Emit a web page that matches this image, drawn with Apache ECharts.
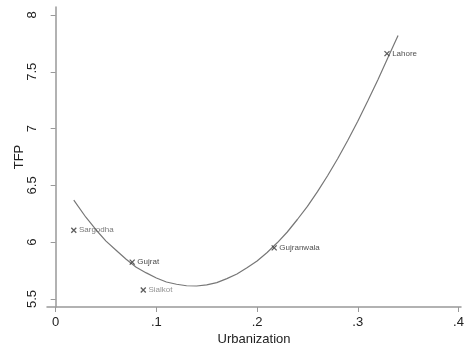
<!DOCTYPE html>
<html><head><meta charset="utf-8">
<script src="https://cdn.jsdelivr.net/npm/echarts@6/dist/echarts.min.js"></script>
<style>html,body{margin:0;padding:0;background:#fff}#c{width:464px;height:347px}</style>
</head><body><div id="c"></div>
<script>
// Data
var cities = ['Sargodha', 'Gujrat', 'Sialkot', 'Gujranwala', 'Lahore'];
var urbanization = [0.018, 0.076, 0.087, 0.217, 0.329];
var tfp = [6.105, 5.825, 5.58, 5.95, 7.66];
var labelColors = ['#555', '#111', '#777', '#222', '#222'];
// fitted curve, points
var curveX = [0.018, 0.03, 0.04, 0.05, 0.06, 0.07, 0.08, 0.09, 0.10, 0.11, 0.12, 0.13, 0.14, 0.15, 0.16, 0.17, 0.18, 0.19, 0.20, 0.21, 0.22, 0.23, 0.24, 0.25, 0.26, 0.27, 0.28, 0.29, 0.30, 0.31, 0.32, 0.33, 0.34];
var curveY = [6.37, 6.22, 6.11, 6.01, 5.93, 5.85, 5.78, 5.73, 5.685, 5.65, 5.63, 5.617, 5.615, 5.625, 5.645, 5.68, 5.72, 5.775, 5.835, 5.91, 5.995, 6.09, 6.20, 6.315, 6.445, 6.585, 6.735, 6.895, 7.065, 7.245, 7.43, 7.625, 7.82];
var xTicks = [0, 0.1, 0.2, 0.3, 0.4];
var xTickLabels = ['0', '.1', '.2', '.3', '.4'];
var yTicks = [5.5, 6, 6.5, 7, 7.5, 8];
var yTickLabels = ['5.5', '6', '6.5', '7', '7.5', '8'];

var font = '"Liberation Sans", Arial, sans-serif';
var chart = echarts.init(document.getElementById('c'));
var pts = urbanization.map(function (x, i) {
  return { value: [x, tfp[i]], name: cities[i], label: { color: labelColors[i] } };
});
var curve = curveX.map(function (x, i) { return [x, curveY[i]]; });
function fmt(ticks, labels) {
  return function (v) { var i = ticks.findIndex(function (t) { return Math.abs(t - v) < 1e-9; }); return i >= 0 ? labels[i] : ''; };
}
chart.setOption({
  animation: false,
  backgroundColor: '#fff',
  grid: { left: 47, right: 3, top: 7, bottom: 40, containLabel: false, outerBoundsMode: 'none' },
  xAxis: {
    type: 'value', min: -0.0086, max: 0.4025,
    name: 'Urbanization', nameLocation: 'middle', nameGap: 26, nameMoveOverlap: false,
    nameTextStyle: { fontFamily: font, fontSize: 13, color: '#222' },
    axisLine: { lineStyle: { color: '#999', width: 1.5 } },
    axisTick: { customValues: xTicks, length: 5, lineStyle: { color: '#999', width: 1 } },
    axisLabel: { customValues: xTicks, margin: 9, fontFamily: font, fontSize: 13, color: '#222', formatter: fmt(xTicks, xTickLabels) },
    splitLine: { show: false }
  },
  yAxis: {
    type: 'value', min: 5.43, max: 8.07,
    name: 'TFP', nameLocation: 'middle', nameGap: 21, nameRotate: 90, nameMoveOverlap: false,
    nameTextStyle: { fontFamily: font, fontSize: 13, color: '#222' },
    axisLine: { show: true, lineStyle: { color: '#999', width: 1.5 } },
    axisTick: { show: true, customValues: yTicks, length: 5, lineStyle: { color: '#999', width: 1 } },
    axisLabel: { customValues: yTicks, rotate: 90, margin: 8, fontFamily: font, fontSize: 13, color: '#222', formatter: fmt(yTicks, yTickLabels) },
    splitLine: { show: false }
  },
  series: [
    {
      type: 'line', data: curve, smooth: false, showSymbol: false, symbol: 'none',
      lineStyle: { color: '#777', width: 1.2 }, z: 2
    },
    {
      type: 'scatter', data: pts,
      symbol: 'path://M0,0L10,10M10,0L0,10', symbolSize: 5,
      itemStyle: { color: 'rgba(0,0,0,0)', borderColor: '#333', borderWidth: 1.3 },
      label: { show: true, position: 'right', distance: 2, fontFamily: font, fontSize: 8, formatter: function (p) { return p.name; } },
      z: 3
    }
  ]
});
</script>
</body></html>
